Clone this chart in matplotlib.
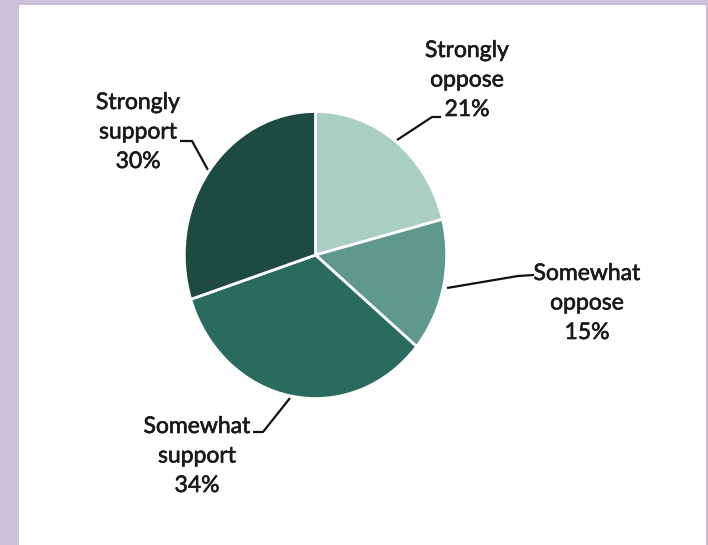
import matplotlib.pyplot as plt
import matplotlib.patheffects as pe
from matplotlib.patches import Rectangle

# data
labels = ["Strongly\noppose\n21%", "Somewhat\noppose\n15%", "Somewhat\nsupport\n34%", "Strongly\nsupport\n30%"]
values = [21, 15, 34, 30]
colors = ["#a9cfc5", "#5f998c", "#296c5e", "#1d4a41"]

W, H = 708, 545
fig = plt.figure(figsize=(W / 100, H / 100), dpi=100)
fig.patch.set_facecolor("#cbc1da")

# background axes in pixel coordinates (y down)
ax = fig.add_axes([0, 0, 1, 1])
ax.set_xlim(0, W)
ax.set_ylim(H, 0)
ax.axis("off")
ax.add_patch(Rectangle((19, 5), 687, 545, facecolor="white", edgecolor="none", zorder=0))

# pie is slightly taller than wide in the original, so draw it in its own box
x0, x1, y0, y1 = 183, 448, 110, 400
pax = fig.add_axes([x0 / W, 1 - y1 / H, (x1 - x0) / W, (y1 - y0) / H])
pax.pie(values, colors=colors, startangle=90, counterclock=False, radius=1,
        wedgeprops=dict(edgecolor="white", linewidth=2))
pax.set_aspect("auto")
pax.set_xlim(-1.01, 1.01)
pax.set_ylim(-1.01, 1.01)
pax.axis("off")

txt_color = "#1a1a1a"
font = dict(family=["Lato", "DejaVu Sans"], fontsize=16.5, color=txt_color,
            ha="center", va="center", linespacing=1.5,
            path_effects=[pe.withStroke(linewidth=0.45, foreground=txt_color)])
label_pos = [(467, 80), (587, 303), (197, 456), (138, 132)]
leaders = [
    [(441, 117), (432, 117), (397, 140)],
    [(534, 275), (518, 276), (447, 288)],
    [(253, 432), (263, 432), (290, 398)],
    [(180, 141), (192, 141), (208, 170)],
]
for lab, (x, y), pts in zip(labels, label_pos, leaders):
    ax.text(x, y, lab, **font)
    ax.plot([p[0] for p in pts], [p[1] for p in pts], color="#111111", lw=1.6,
            solid_capstyle="butt")

fig.savefig("out.png", dpi=100, facecolor=fig.get_facecolor())
